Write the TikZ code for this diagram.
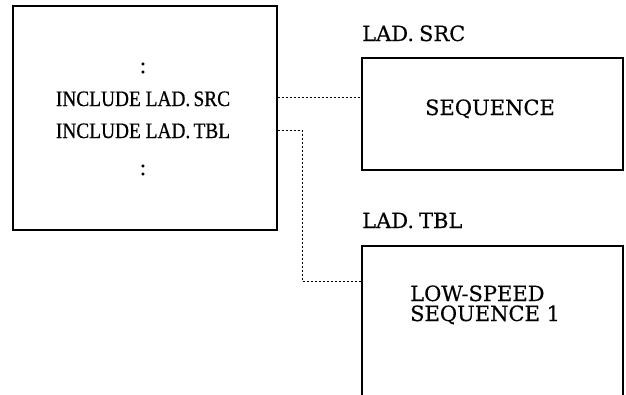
\documentclass[tikz,border=0pt]{standalone}
\usepackage{fontspec}
\setmainfont{Liberation Serif}[FakeBold=0.6]
\newfontfamily\wideserif{DejaVu Serif}[FakeBold=0.4]
\begin{document}
\begin{tikzpicture}[x=1pt,y=-1pt,
  box/.style={draw,line width=1.1pt,rectangle,inner sep=0pt},
  conn/.style={line width=1pt,dash pattern=on 2.2pt off 1.8pt},
  lefttext/.style={font=\fontsize{22}{22}\selectfont,anchor=base,inner sep=0pt},
  righttext/.style={font=\wideserif\fontsize{21}{21}\selectfont,inner sep=0pt}]
\clip (0,0) rectangle (626,394);
\fill[white] (0,0) rectangle (626,394);
% boxes
\node[box,minimum width=264pt,minimum height=224pt] (main) at (145,118) {};
\node[box,minimum width=261pt,minimum height=112pt] (src) at (492.5,114) {};
\node[box,minimum width=261pt,minimum height=200pt] (tbl) at (492.5,346) {};
% left text
\node[lefttext] (d1) at (143,73) {:};
\node[lefttext] (inc1) at (143,106) {\scalebox{0.88}[1]{INCLUDE LAD.\,SRC}};
\node[lefttext] (inc2) at (143,138) {\scalebox{0.88}[1]{INCLUDE LAD.\,TBL}};
\node[lefttext] (d2) at (143,175) {:};
% right text
\node[righttext,anchor=base west] (lsrc) at (362,41) {LAD.\hspace{5pt}SRC};
\node[righttext,anchor=base] (seq) at (490,115) {SEQUENCE};
\node[righttext,anchor=base west] (ltbl) at (362,228) {LAD.\hspace{5pt}TBL};
\node[righttext,anchor=base west,align=left,font=\wideserif\fontsize{21}{20}\selectfont] (low) at (410,321) {LOW-SPEED\\SEQUENCE 1};
% connectors
\coordinate (c2) at (302,130);
\draw[conn] (main.east |- 0,97) -- (src.west |- 0,97);
\draw[conn] (main.east |- c2) -- (c2) -- (c2 |- 0,281) -- (tbl.west |- 0,281);
\end{tikzpicture}
\end{document}
